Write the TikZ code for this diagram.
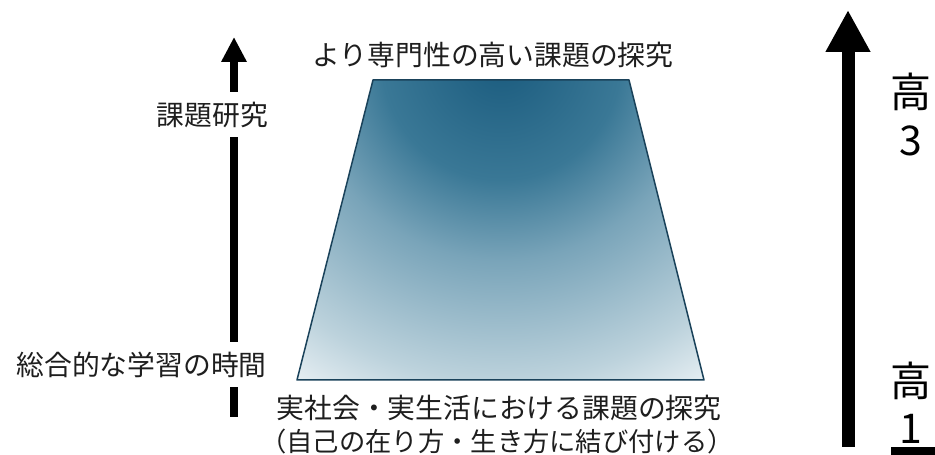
\documentclass[tikz,border=0pt]{standalone}
\usepackage{fontspec}
\setmainfont{Noto Sans CJK JP}
\usepackage{xcolor}
\usetikzlibrary{arrows.meta, positioning}
\definecolor{inkgray}{RGB}{30, 30, 30}
\definecolor{trapedge}{RGB}{26, 66, 90}
\definecolor{tealdeep}{RGB}{26, 91, 126}
\definecolor{tealmid}{RGB}{58, 120, 150}
\definecolor{tealsoft}{RGB}{121, 164, 185}
\definecolor{tealpale}{RGB}{188, 210, 220}
\definecolor{tealwhite}{RGB}{244, 248, 250}
\pgfdeclareradialshading{trapglow}{\pgfpoint{0bp}{0bp}}{%
  color(0bp)=(tealdeep); color(7.5bp)=(tealmid); color(12.5bp)=(tealsoft);
  color(20bp)=(tealpale); color(25bp)=(tealwhite); color(50bp)=(tealwhite)}

\begin{document}
\begin{tikzpicture}[
    x=1pt, y=1pt,
    lbl/.style={font=\fontsize{27.8pt}{31pt}\selectfont, text=inkgray, inner sep=0pt},
    gaplbl/.style={lbl, minimum height=45pt, anchor=east},
    grade/.style={font=\fontsize{41pt}{44pt}\selectfont, text=black, inner sep=0pt},
    shaft/.style={line width=8pt, black},
    bigshaft/.style={line width=13pt, black}
]
\useasboundingbox (0,0) rectangle (935,455);

% trapezoid
\begin{scope}
  \clip (297,75) -- (373,375) -- (629,375) -- (704,75) -- cycle;
  \shade[shading=trapglow] (501,395) circle (400);
\end{scope}
\draw[trapedge, line width=1.5pt, line join=round] (297,75) -- (373,375) -- (629,375) -- (704,75) -- cycle;

\node[lbl] (deep) at (493,400) {より専門性の高い課題の探究};
\node[lbl] (real) at (499,47) {実社会・実生活における課題の探究};
\node[lbl, font=\fontsize{26.3pt}{29pt}\selectfont] (self) at (497,13) {（自己の在り方・生き方に結び付ける）};

% left axis
\coordinate (lbot) at (234,38);
\coordinate (ltop) at (234,418);
\node[gaplbl] (sogo) at (267,90.5) {総合的な学習の時間};
\node[gaplbl] (kadai) at (268,340.5) {課題研究};

\draw[shaft] (lbot) -- (sogo.south -| lbot);
\draw[shaft] (sogo.north -| lbot) -- (kadai.south -| lbot);
\draw[shaft, -{Triangle[length=25pt, width=24pt]}] (kadai.north -| lbot) -- (ltop);

% right axis
\coordinate (rbot) at (848,8);
\coordinate (rtop) at (848,445);
\draw[bigshaft, -{Triangle[length=42pt, width=42pt]}] (rbot) -- (rtop);

\node[grade] (hi3) at (911,363) {高};
\node[grade] (num3) at (911,314) {3};
\node[grade] (hi1) at (911,74) {高};
\node[grade] (num1) at (911,26) {1};
\fill[black] (891,0) rectangle (935,8);

\end{tikzpicture}
\end{document}
